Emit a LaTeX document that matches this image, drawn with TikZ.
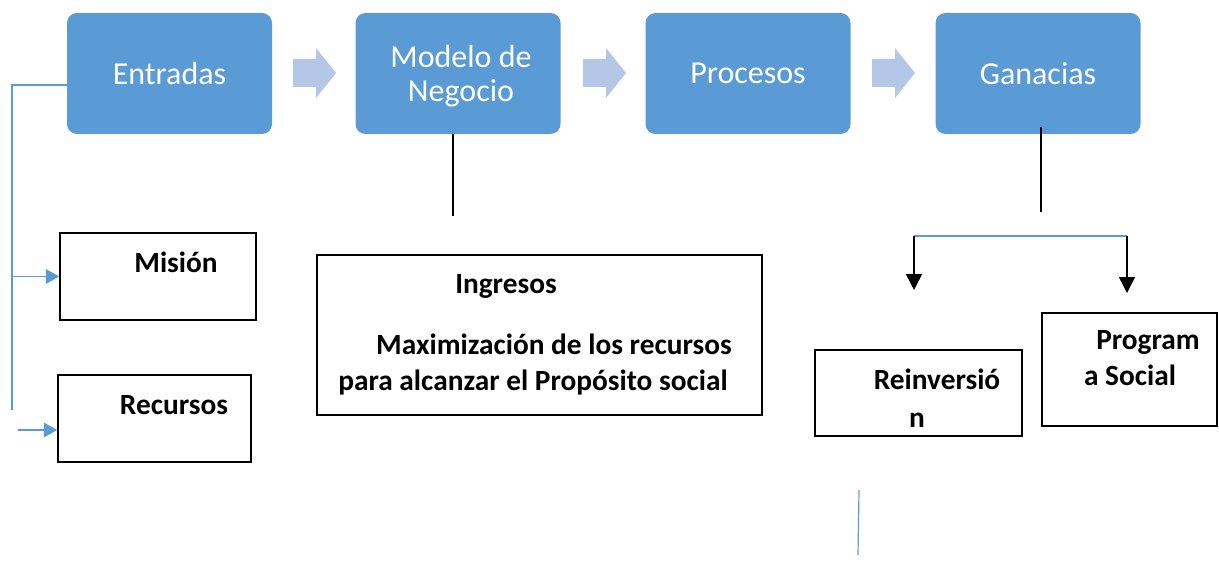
\documentclass[tikz,border=0pt]{standalone}
\usepackage{fontspec}
\setmainfont{Carlito}
\usetikzlibrary{arrows.meta}
\definecolor{boxblue}{RGB}{91,155,213}
\definecolor{chevblue}{RGB}{180,199,231}
\tikzset{every picture/.style={line width=0.75pt}}
\tikzset{
  stepbox/.style={fill=boxblue,draw=none,rounded corners=7.5pt,minimum width=153.75pt,minimum height=90.75pt,text=white,font=\fontsize{24}{25.5}\selectfont,align=center,inner sep=0pt},
  whitebox/.style={draw=black,line width=1.2pt,inner sep=0pt},
  boldtxt/.style={anchor=base,inner sep=0pt,font=\fontsize{22}{24}\bfseries\selectfont},
  blueline/.style={draw=boxblue,line width=0.9pt},
}

\begin{document}
\begin{tikzpicture}[x=0.75pt,y=0.75pt,yscale=-1,xscale=1]
		\useasboundingbox (0,0) rectangle (1219,570);
		
		%Rounded Rect boxes
		\node [stepbox] (entradas) at (169.5,73.5) {Entradas};
		\node [stepbox] (modelo) at (458,73.5) {};
		\node [stepbox] (procesos) at (748,73.5) {Procesos};
		\node [stepbox] (ganacias) at (1038,73.5) {Ganacias};
		\node [stepbox,fill=none,minimum height=0pt] (tmodelo) at (461,76.5) {Modelo de\\Negocio};
		
		%Right Arrows
		\foreach \ax in {293,583,872}{
			\fill [chevblue] (\ax,59) -- (\ax+23,59) -- (\ax+23,48) -- (\ax+43,73) -- (\ax+23,98) -- (\ax+23,87) -- (\ax,87) -- cycle ;
		}
		
		%Shape: Rectangles
		\node [whitebox,minimum width=147pt,minimum height=65.25pt] (mision) at (158,276.5) {};
		\node [whitebox,minimum width=144.75pt,minimum height=65.25pt] (recursos) at (154.5,418.5) {};
		\node [whitebox,minimum width=333.75pt,minimum height=120pt] (ingresos) at (539.5,335) {};
		\node [whitebox,minimum width=155.25pt,minimum height=64.5pt] (reinv) at (918.5,393) {};
		\node [whitebox,minimum width=131.25pt,minimum height=84.75pt] (progsoc) at (1129.5,369.5) {};
		
		% Text Node
		\node [boldtxt] (tmision) at (176,272) {Misión};
		\node [boldtxt] (trecursos) at (174,414) {Recursos};
		\node [boldtxt] (tingresos) at (506,293) {Ingresos};
		\node [boldtxt] (tmax) at (554,354) {Maximización de los recursos};
		\node [boldtxt] (tpara) at (533,390) {para alcanzar el Propósito social};
		\node [boldtxt] (treinv) at (937,389) {Reinversió};
		\node [boldtxt] (tn) at (917,427) {n};
		\node [boldtxt] (tprog) at (1148,349) {Program};
		\node [boldtxt] (tsocial) at (1130,385) {a Social};
		
		%Coordinates for free ends
		\coordinate (lefttop) at (12,85);
		\coordinate (leftbot) at (12,410);
		\coordinate (recstart) at (18,430);
		\coordinate (modend) at (453,216);
		\coordinate (ganend) at (1041,212);
		\coordinate (splitl) at (914,236);
		\coordinate (splitr) at (1127,236);
		\coordinate (arrl) at (914,290);
		\coordinate (arrr) at (1127,293);
		\coordinate (looseA) at (859,490);
		\coordinate (looseB) at (858,555);
		
		%Straight Lines
		\draw [blueline] (entradas.west |- lefttop) -- (lefttop) -- (leftbot) ;
		\draw [blueline,-{Triangle[length=10pt,width=11pt]}] (lefttop |- mision.west) -- (mision.west) ;
		\draw [blueline,-{Triangle[length=10pt,width=11pt]}] (recstart) -- (recstart -| recursos.west) ;
		\draw [line width=1.2pt] (modelo.south -| modend) -- (modend) ;
		\draw [line width=1.2pt] (ganend |- 0,127) -- (ganend) ;
		\draw [blueline] (splitl) -- (splitr) ;
		\draw [line width=1.2pt,-{Triangle[length=12pt,width=12pt]}] (splitl) -- (arrl) ;
		\draw [line width=1.2pt,-{Triangle[length=12pt,width=12pt]}] (splitr) -- (arrr) ;
		\draw [blueline] (looseA) -- (looseB) ;
		
\end{tikzpicture}
\end{document}
